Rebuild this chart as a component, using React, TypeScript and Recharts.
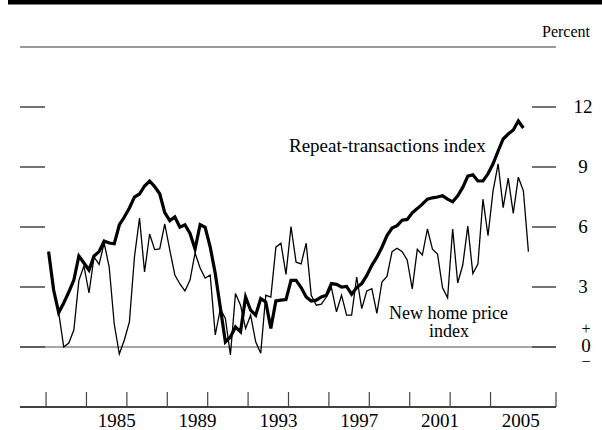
import React from 'react';
import { LineChart, Line, XAxis, YAxis, ReferenceLine } from 'recharts';

// Quarterly observations, 1982:Q1 - 2005:Q4 (percent change, annual rate)
const years = [
  1982, 1983, 1984, 1985, 1986, 1987, 1988, 1989, 1990, 1991, 1992, 1993,
  1994, 1995, 1996, 1997, 1998, 1999, 2000, 2001, 2002, 2003, 2004, 2005,
];
const quarters = ['Q1', 'Q2', 'Q3', 'Q4'];

const repeatTransactions = [
  4.77, 2.85, 1.72, 2.2,
  2.75, 3.35, 4.55, 4.2,
  3.85, 4.55, 4.77, 5.3,
  5.2, 5.16, 6.1, 6.5,
  6.95, 7.5, 7.65, 8.05,
  8.3, 8.02, 7.66, 6.72,
  6.32, 6.5, 5.99, 6.11,
  5.68, 4.9, 6.12, 5.98,
  5.0, 3.68, 1.97, 0.25,
  0.5, 1.0, 0.76, 2.5,
  1.84, 1.59, 2.42, 2.25,
  0.93, 2.3, 2.34, 2.37,
  3.33, 3.33, 2.97, 2.5,
  2.3, 2.34, 2.5, 2.59,
  3.17, 3.13, 3.0, 3.03,
  2.64, 2.97, 3.17, 3.58,
  4.08, 4.49, 4.99, 5.57,
  5.95, 6.07, 6.34, 6.38,
  6.71, 6.92, 7.14, 7.39,
  7.46, 7.5, 7.56, 7.39,
  7.26, 7.56, 7.98, 8.54,
  8.61, 8.3, 8.3, 8.66,
  9.16, 9.8, 10.4, 10.65,
  10.85, 11.3, 10.95, null,
];

const newHomePrice = [
  4.77, 2.85, 1.72, 0.0,
  0.2, 0.85, 3.33, 4.05,
  2.7, 4.5, 4.13, 5.2,
  4.0, 1.15, -0.35, 0.35,
  1.25, 4.5, 6.45, 3.75,
  5.65, 4.87, 4.9, 6.15,
  4.84, 3.6, 3.15, 2.8,
  3.35, 4.7, 3.95, 3.45,
  3.6, 0.6, 1.9, 1.43,
  -0.4, 2.67, 2.09, 0.93,
  1.59, 0.26, -0.31, 2.59,
  2.5, 4.99, 5.19, 3.63,
  6.02, 4.24, 4.16, 5.19,
  2.59, 2.09, 2.14, 2.5,
  2.97, 1.76, 2.59, 1.59,
  1.59, 3.5, 1.92, 2.8,
  2.92, 1.68, 3.25, 3.53,
  4.77, 4.94, 4.77, 4.35,
  2.91, 4.89, 4.6, 5.9,
  4.89, 4.65, 2.96, 2.46,
  5.9, 3.2, 4.1, 6.04,
  3.67, 4.15, 7.39, 5.57,
  7.81, 9.16, 6.97, 8.44,
  6.68, 8.49, 7.81, 4.77,
];

const xDomain = [1980.71, 2007.24];
const yearTicks = [
  1980.71, 1982, 1983, 1984, 1985, 1986, 1987, 1988, 1989, 1990, 1991, 1992, 1993,
  1994, 1995, 1996, 1997, 1998, 1999, 2000, 2001, 2002, 2003, 2004, 2005, 2006, 2007.24,
];
const yearLabels = [1985, 1989, 1993, 1997, 2001, 2005];
const yDomain = [-3, 15];
const percentTicks = [0, 3, 6, 9, 12];

const data = years.flatMap((y, i) =>
  quarters.map((q, j) => ({
    date: `${y}:${q}`,
    t: y + (j + 0.5) / 4,
    repeat: repeatTransactions[i * 4 + j],
    newHome: newHomePrice[i * 4 + j],
  }))
);

const FONT = '"Liberation Serif", "Times New Roman", serif';

const EmptyTick = () => <g />;

const renderRightTick = (props: any) => {
  const { x, y, payload } = props;
  const v = payload.value;
  const common = { fontFamily: FONT, fill: '#000', textAnchor: 'middle' as const };
  if (v === 0) {
    return (
      <g>
        <text x={x + 3} y={y - 13} fontSize={16} {...common}>+</text>
        <text x={x + 3} y={y + 5} fontSize={19} {...common}>0</text>
        <text x={x + 3} y={y + 20} fontSize={16} {...common}>−</text>
      </g>
    );
  }
  return (
    <text x={x} y={y + 6} fontSize={19} {...common}>
      {v}
    </text>
  );
};

export default function App() {
  return (
    <div style={{ position: 'absolute', left: 0, top: 0, width: 602, height: 430, background: '#fff' }}>
      <LineChart width={602} height={430} data={data} margin={{ top: 47, right: 0, bottom: 3, left: 20 }}>
        <XAxis
          xAxisId="grid"
          dataKey="t"
          type="number"
          domain={xDomain}
          ticks={yearTicks}
          allowDataOverflow
          mirror
          tick={EmptyTick}
          tickSize={15}
          tickLine={{ stroke: '#444', strokeWidth: 1.2 }}
          axisLine={{ stroke: '#000', strokeWidth: 1.5 }}
        />
        <XAxis
          xAxisId="labels"
          dataKey="t"
          type="number"
          domain={xDomain}
          ticks={yearLabels.map((y) => y + 0.5)}
          allowDataOverflow
          height={20}
          tickSize={0}
          tickMargin={7}
          tickLine={false}
          axisLine={false}
          tickFormatter={(v: number) => String(Math.floor(v))}
          tick={{ fontFamily: FONT, fontSize: 19, fill: '#000' }}
        />
        <YAxis
          yAxisId="left"
          orientation="left"
          dataKey="newHome"
          domain={yDomain}
          allowDataOverflow
          ticks={percentTicks}
          mirror
          tick={EmptyTick}
          tickSize={25}
          tickLine={{ stroke: '#444', strokeWidth: 1.5 }}
          axisLine={false}
        />
        <YAxis
          yAxisId="rightTicks"
          orientation="right"
          dataKey="newHome"
          domain={yDomain}
          allowDataOverflow
          ticks={percentTicks}
          mirror
          tick={EmptyTick}
          tickSize={24}
          tickLine={{ stroke: '#444', strokeWidth: 1.5 }}
          axisLine={false}
        />
        <YAxis
          yAxisId="rightLabels"
          orientation="right"
          dataKey="newHome"
          domain={yDomain}
          allowDataOverflow
          ticks={percentTicks}
          width={46}
          tickSize={0}
          tickMargin={27}
          tickLine={false}
          axisLine={false}
          tick={renderRightTick}
        />
        <ReferenceLine xAxisId="grid" yAxisId="left" y={15} stroke="#777" strokeWidth={1.5} />
        <ReferenceLine xAxisId="grid" yAxisId="left" y={0} stroke="#888" strokeWidth={1.5} />
        <Line
          xAxisId="grid"
          yAxisId="left"
          dataKey="newHome"
          type="linear"
          stroke="#000"
          strokeWidth={1.3}
          dot={false}
          isAnimationActive={false}
        />
        <Line
          xAxisId="grid"
          yAxisId="left"
          dataKey="repeat"
          type="linear"
          stroke="#000"
          strokeWidth={3.2}
          dot={false}
          isAnimationActive={false}
        />
      </LineChart>
      <svg
        width={602}
        height={430}
        style={{ position: 'absolute', left: 0, top: 0, pointerEvents: 'none', zIndex: 5 }}
      >
        <rect x={8} y={0} width={594} height={4.5} fill="#000" />
        <g fontFamily={FONT} fill="#000">
          <text x={590} y={37} fontSize={16} textAnchor="end">Percent</text>
          <text x={289} y={152} fontSize={19}>Repeat-transactions index</text>
          <text x={448.5} y={318.5} fontSize={18} textAnchor="middle">New home price</text>
          <text x={449} y={337} fontSize={18} textAnchor="middle">index</text>
        </g>
      </svg>
    </div>
  );
}
